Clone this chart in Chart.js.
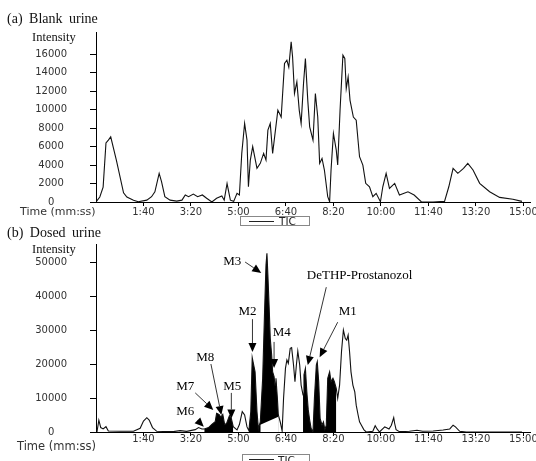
<!DOCTYPE html>
<html>
<head>
<meta charset="utf-8">
<script src="https://cdn.jsdelivr.net/npm/chart.js@4.4.0/dist/chart.umd.min.js"></script>
<style>
  html, body { margin: 0; padding: 0; background: #fff; }
  #wrap { position: relative; width: 536px; height: 461px; overflow: hidden; }
  canvas { position: absolute; left: 0; }
  .lbl { position: absolute; white-space: pre; color: #111; }
  .serif { font-family: "Liberation Serif", "Times New Roman", serif; }
  .sans { font-family: "DejaVu Sans", Verdana, sans-serif; color: #333; }
  .tic { position: absolute; border: 1px solid #888; box-sizing: border-box; }
  .tic .ln { position: absolute; height: 0; border-top: 1px solid #222; }
  .tic .tx { position: absolute; font: 10.5px "DejaVu Sans", sans-serif; color: #222; line-height: 10px; }
</style>
</head>
<body>
<div id="wrap">
  <canvas id="chartA" width="536" height="228" style="top:0"></canvas>
  <canvas id="chartB" width="536" height="233" style="top:228px"></canvas>

  <div class="lbl serif" style="left:7px; top:11px; font-size:14px; line-height:16px; word-spacing:3px">(a) Blank urine</div>
  <div class="lbl serif" style="left:32px; top:30px; font-size:12.5px; line-height:14px">Intensity</div>
  <div class="lbl sans" style="left:20px; top:206px; font-size:11px; line-height:12px">Time (mm:ss)</div>
  <div class="tic" style="left:240px; top:216px; width:70px; height:10px">
    <div class="ln" style="left:8px; top:4px; width:25px"></div>
    <div class="tx" style="left:38px; top:-1px">TIC</div>
  </div>

  <div class="lbl serif" style="left:7px; top:225px; font-size:14px; line-height:16px; word-spacing:3px">(b) Dosed urine</div>
  <div class="lbl serif" style="left:32px; top:242px; font-size:12.5px; line-height:14px">Intensity</div>
  <div class="lbl sans" style="left:17px; top:440px; font-size:11.5px; line-height:12px">Time (mm:ss)</div>
  <div class="tic" style="left:242px; top:454px; width:68px; height:14px">
    <div class="ln" style="left:6px; top:4px; width:25px"></div>
    <div class="tx" style="left:35px; top:0px">TIC</div>
  </div>
</div>

<script>
// retention time in seconds, intensity in counts
const timesA = [0, 8, 15, 21, 26, 31, 43, 58, 65, 79, 89, 107, 117, 124, 133, 138, 145, 156, 170, 181,
  188, 195, 205, 214, 224, 233, 244, 254, 265, 270, 276, 283, 290, 297, 302, 307, 313, 318, 321, 325,
  330, 339, 346, 353, 358, 362, 367, 372, 383, 390, 397, 402, 406, 411, 414, 418, 423, 428, 432, 437,
  441, 446, 450, 457, 462, 467, 471, 476, 481, 488, 492, 495, 500, 506, 509, 514, 520, 524, 527, 531,
  535, 542, 548, 555, 562, 568, 576, 583, 590, 599, 604, 611, 618, 629, 639, 657, 670, 685, 710, 734,
  743, 752, 762, 774, 783, 794, 808, 829, 850, 878, 897];
const blankA = [0, 540, 1600, 6400, 6700, 7050, 4500, 1000, 540, 200, 30, 200, 570, 1100, 3100, 2200, 570, 200, 100, 200,
  760, 570, 860, 570, 760, 400, 0, 400, 650, 200, 2000, 200, 70, 940, 760, 5260, 8500, 6700, 1650, 4540,
  6000, 3640, 4180, 5260, 4540, 7780, 8500, 5260, 9950, 9200, 15000, 15350, 14600, 17330, 15700, 11750, 13000, 9950, 8500, 12800,
  15530, 11000, 8140, 6700, 11750, 9200, 4180, 4720, 3460, 570, 30, 3460, 7420, 5620, 4000, 9950, 15890, 15530, 12290, 13540,
  11000, 9200, 8860, 4900, 4000, 2020, 1650, 570, 940, 30, 1650, 3100, 1480, 2020, 760, 1110, 760, 30, 0, 70,
  1650, 3640, 3100, 3640, 4180, 3460, 2020, 1110, 500, 300, 70];

const timesB = [2, 6, 10, 15, 21, 26, 51, 79, 93, 100, 107, 112, 119, 128, 163, 177, 191, 209, 216, 223,
  228, 237, 244, 251, 254, 259, 263, 267, 271, 275, 281, 285, 289, 297, 302, 308, 313, 318, 322, 326,
  329, 335, 339, 342, 346, 351, 355, 358, 360, 362, 365, 367, 370, 372, 375, 377, 379, 382, 384, 388,
  392, 395, 399, 402, 405, 409, 412, 416, 419, 422, 425, 429, 432, 436, 438, 441, 444, 447, 450, 453,
  457, 460, 464, 466, 469, 472, 476, 479, 482, 485, 488, 492, 495, 499, 502, 506, 509, 513, 517, 521,
  525, 528, 531, 534, 537, 541, 545, 548, 552, 555, 559, 564, 569, 583, 588, 592, 597, 608, 611, 617,
  622, 627, 629, 632, 639, 660, 676, 688, 710, 731, 745, 752, 757, 766, 780, 897];
const dosedB = [0, 3500, 1300, 900, 1560, 300, 200, 200, 1100, 3200, 4200, 3500, 1300, 200, 100, 400, 200, 700, 1300, 900,
  900, 1300, 2250, 3000, 5500, 5200, 4400, 5200, 2200, 2500, 4800, 4000, 1560, 600, 2200, 6000, 5000, 1500, 400, 6000,
  21850, 17700, 6000, 1000, 3000, 15800, 35400, 49100, 52550, 46200, 35400, 27500, 22600, 17700, 16300, 13800, 15800, 9900, 5000, 3000,
  300, 9900, 18700, 21200, 20200, 24600, 24800, 19700, 14800, 19700, 23800, 19700, 13800, 10900, 16800, 18700, 11800, 6500, 3500, 1100,
  0, 9900, 19700, 20700, 14800, 4000, 2000, 3000, 700, 2000, 15800, 17700, 14800, 15800, 14800, 12800, 9900, 13800, 23600, 30000,
  27500, 27000, 28500, 23600, 17700, 13800, 11800, 7900, 5000, 3000, 2000, 700, 0, 200, 1850, 900, 0, 1500, 1300, 900,
  2000, 4200, 2500, 700, 100, 200, 500, 200, 300, 600, 900, 2000, 1500, 200, 0, 0];

// time windows where the metabolite ion traces are shaded black
const fillRanges = [[228, 290], [322, 384], [436, 506]];
// lower edge of the shaded M3/M4 area
const m3BaseTimes = [346, 384];
const m3BaseValues = [2100, 4500];

const xTicks = [100, 200, 300, 400, 500, 600, 700, 800, 900];
const yTicksA = [0, 2000, 4000, 6000, 8000, 10000, 12000, 14000, 16000];
const yTicksB = [0, 10000, 20000, 30000, 40000, 50000];

const annotations = [
  {text: 'M3', at: [287, 50000], from: [314, 50000], to: [348, 46800]},
  {text: 'M2', at: [319, 35300], from: [329.5, 33200], to: [329.5, 23500]},
  {text: 'M4', at: [391, 29100], from: [375, 26500], to: [375, 18800]},
  {text: 'DeTHP-Prostanozol', at: [555, 45900], from: [485, 42600], to: [446, 19700]},
  {text: 'M1', at: [530, 35300], from: [509, 32300], to: [471, 22000]},
  {text: 'M8', at: [230, 22000], from: [242, 20000], to: [264, 5000]},
  {text: 'M7', at: [188, 13500], from: [209, 11500], to: [247, 6500]},
  {text: 'M5', at: [287, 13500], from: [285, 11500], to: [285, 4000]},
  {text: 'M6', at: [188, 5900], from: [213, 3500], to: [227, 1560]},
];

Chart.defaults.font.family = '"DejaVu Sans", Verdana, sans-serif';

const mmss = v => Math.floor(v / 60) + ':' + String(v % 60).padStart(2, '0');
const pts = (ts, vs) => ts.map((t, i) => ({x: t, y: vs[i]}));
const inFill = t => fillRanges.some(r => t >= r[0] && t <= r[1]);

function scaleOpts(yMax, yTicks, xAxisHeight, xLabelPad) {
  return {
    x: {
      type: 'linear', min: 0, max: 914, z: 1,
      border: {color: '#000', width: 1},
      grid: {drawOnChartArea: false, tickLength: 4, color: '#000'},
      ticks: {autoSkip: false, maxRotation: 0, padding: xLabelPad, color: '#333', font: {size: 10}, callback: v => mmss(v)},
      afterBuildTicks: s => { s.ticks = xTicks.map(v => ({value: v})); },
      afterFit: s => { s.height = xAxisHeight; s.paddingLeft = 0; s.paddingRight = 0; }
    },
    y: {
      type: 'linear', min: 0, max: yMax,
      border: {color: '#000', width: 1},
      grid: {drawOnChartArea: false, tickLength: 6, color: '#000'},
      ticks: {crossAlign: 'center', padding: 23, color: '#333', font: {size: 10}, callback: v => String(v)},
      afterBuildTicks: s => { s.ticks = yTicks.map(v => ({value: v})); },
      afterFit: s => { s.width = 96; s.paddingTop = 0; s.paddingBottom = 0; }
    }
  };
}

const arrowLabels = {
  id: 'arrowLabels',
  afterDatasetsDraw(chart) {
    const {ctx, scales: {x, y}} = chart;
    ctx.save();
    ctx.font = '13px "Liberation Serif", "Times New Roman", serif';
    ctx.fillStyle = '#000';
    ctx.strokeStyle = '#000';
    ctx.textAlign = 'center';
    ctx.textBaseline = 'middle';
    annotations.forEach(a => {
      ctx.fillText(a.text, x.getPixelForValue(a.at[0]), y.getPixelForValue(a.at[1]));
      const x0 = x.getPixelForValue(a.from[0]), y0 = y.getPixelForValue(a.from[1]);
      const x1 = x.getPixelForValue(a.to[0]), y1 = y.getPixelForValue(a.to[1]);
      const ang = Math.atan2(y1 - y0, x1 - x0);
      const hl = 9, hw = 4;
      const bx = x1 - hl * Math.cos(ang), by = y1 - hl * Math.sin(ang);
      ctx.lineWidth = 0.8;
      ctx.beginPath(); ctx.moveTo(x0, y0); ctx.lineTo(bx, by); ctx.stroke();
      ctx.beginPath();
      ctx.moveTo(x1, y1);
      ctx.lineTo(bx + hw * Math.sin(ang), by - hw * Math.cos(ang));
      ctx.lineTo(bx - hw * Math.sin(ang), by + hw * Math.cos(ang));
      ctx.closePath(); ctx.fill();
    });
    ctx.restore();
  }
};

const common = {
  responsive: false,
  animation: false,
  plugins: {legend: {display: false}, tooltip: {enabled: false}},
  elements: {point: {radius: 0}, line: {tension: 0}}
};

new Chart(document.getElementById('chartA'), {
  type: 'line',
  data: {
    datasets: [{label: 'TIC', data: pts(timesA, blankA), borderColor: '#111', borderWidth: 1.1, fill: false}]
  },
  options: Object.assign({}, common, {
    layout: {padding: {left: 0, right: 6, top: 32, bottom: 0}},
    scales: scaleOpts(18400, yTicksA, 26, 0)
  })
});

new Chart(document.getElementById('chartB'), {
  type: 'line',
  data: {
    datasets: [
      {label: 'TIC', data: pts(timesB, dosedB), borderColor: '#111', borderWidth: 1.1, fill: false},
      {label: 'base', data: pts(m3BaseTimes, m3BaseValues), borderColor: 'rgba(0,0,0,0)', borderWidth: 0,
        backgroundColor: '#fff', fill: 'origin'},
      {label: 'ions', data: timesB.map((t, i) => ({x: t, y: inFill(t) ? dosedB[i] : null})),
        borderColor: 'rgba(0,0,0,0)', borderWidth: 0, backgroundColor: '#000', fill: 'origin', spanGaps: false}
    ]
  },
  options: Object.assign({}, common, {
    layout: {padding: {left: 0, right: 6, top: 16, bottom: 0}},
    scales: scaleOpts(55300, yTicksB, 29, -3)
  }),
  plugins: [arrowLabels]
});
</script>
</body>
</html>
